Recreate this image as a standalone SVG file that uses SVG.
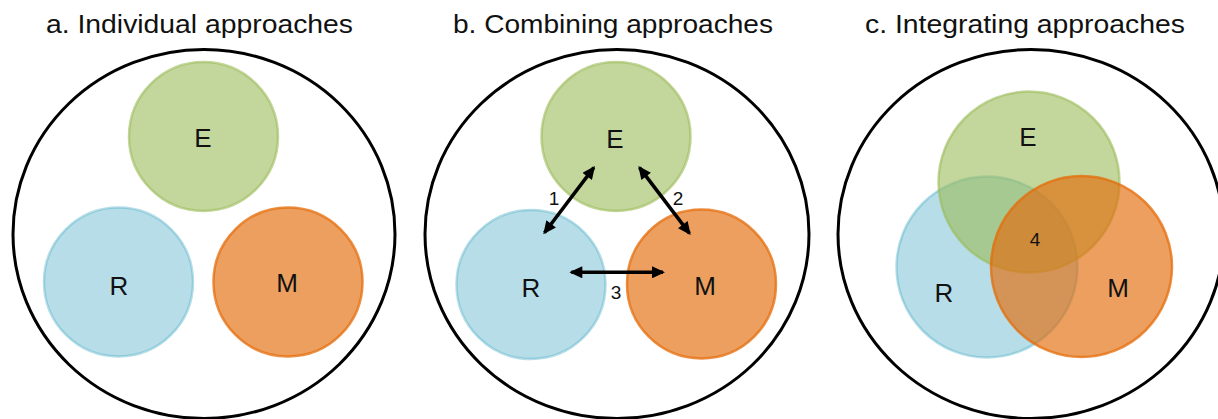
<svg xmlns="http://www.w3.org/2000/svg" width="1218" height="419" viewBox="0 0 1218 419">
<defs>
<style>
.title{font-family:"Liberation Sans",Arial,sans-serif;font-size:25px;fill:#111}
.lbl{font-family:"Liberation Sans",Arial,sans-serif;font-size:26px;fill:#111;text-anchor:middle}
.num{font-family:"Liberation Sans",Arial,sans-serif;font-size:19px;fill:#111;text-anchor:middle}
.outer{fill:none;stroke:#000;stroke-width:3}
.e{fill:#9BBB59;fill-opacity:0.6;stroke:#9BBB59;stroke-opacity:0.6;stroke-width:2.5}
.r{fill:#4BACC6;fill-opacity:0.4;stroke:#4BACC6;stroke-opacity:0.4;stroke-width:2.5}
.m{fill:#E46C0A;fill-opacity:0.65;stroke:#E46C0A;stroke-opacity:0.75;stroke-width:2.5}
.arr{stroke:#000;stroke-width:3.5;fill:none;marker-start:url(#ah);marker-end:url(#ah)}
</style>
<marker id="ah" markerUnits="userSpaceOnUse" markerWidth="14" markerHeight="12" refX="11" refY="6" orient="auto-start-reverse" viewBox="0 0 13 12">
<path d="M0,0 L13,6 L0,12 z" fill="#000"/>
</marker>
</defs>
<rect width="1218" height="419" fill="#fff"/>

<g id="titles">
<text class="title" x="46" y="33" textLength="307" lengthAdjust="spacingAndGlyphs">a. Individual approaches</text>
<text class="title" x="453" y="33" textLength="320" lengthAdjust="spacingAndGlyphs">b. Combining approaches</text>
<text class="title" x="865" y="33" textLength="320" lengthAdjust="spacingAndGlyphs">c. Integrating approaches</text>
</g>

<g id="panel-a">
<ellipse class="outer" cx="204" cy="234" rx="191" ry="184.5"/>
<g id="a-E"><circle class="e" cx="203.5" cy="136.5" r="74.5"/><text class="lbl" x="203" y="147">E</text></g>
<g id="a-R"><circle class="r" cx="118.5" cy="282" r="74.5"/><text class="lbl" x="119" y="295">R</text></g>
<g id="a-M"><circle class="m" cx="288" cy="282" r="74.5"/><text class="lbl" x="287" y="292">M</text></g>
</g>

<g id="panel-b">
<ellipse class="outer" cx="617" cy="234" rx="192" ry="184.5"/>
<g id="b-E"><circle class="e" cx="616" cy="136.5" r="74.5"/><text class="lbl" x="615" y="148">E</text></g>
<g id="b-R"><circle class="r" cx="531" cy="284.5" r="74.5"/><text class="lbl" x="531" y="297">R</text></g>
<g id="b-M"><circle class="m" cx="701.5" cy="284" r="74.5"/><text class="lbl" x="705" y="295">M</text></g>
</g>

<g id="connectors">
<line class="arr" x1="544.5" y1="232.7" x2="593.8" y2="167.6"/>
<line class="arr" x1="639.5" y1="167.6" x2="689.5" y2="233.4"/>
<line class="arr" x1="571.3" y1="272.3" x2="663" y2="272.3"/>
<text class="num" x="554" y="205">1</text>
<text class="num" x="678" y="205">2</text>
<text class="num" x="616" y="299">3</text>
</g>

<g id="panel-c">
<ellipse class="outer" cx="1031" cy="234" rx="193" ry="184.5"/>
<g id="c-R"><circle class="r" cx="987" cy="267" r="90.5"/></g>
<g id="c-E"><circle class="e" cx="1029" cy="182" r="90.5"/></g>
<g id="c-M"><circle class="m" cx="1081.5" cy="266.5" r="90.5"/></g>
<text class="lbl" x="1028" y="146">E</text>
<text class="lbl" x="944" y="302">R</text>
<text class="lbl" x="1118" y="297">M</text>
<text class="num" x="1035" y="246">4</text>
</g>
</svg>
